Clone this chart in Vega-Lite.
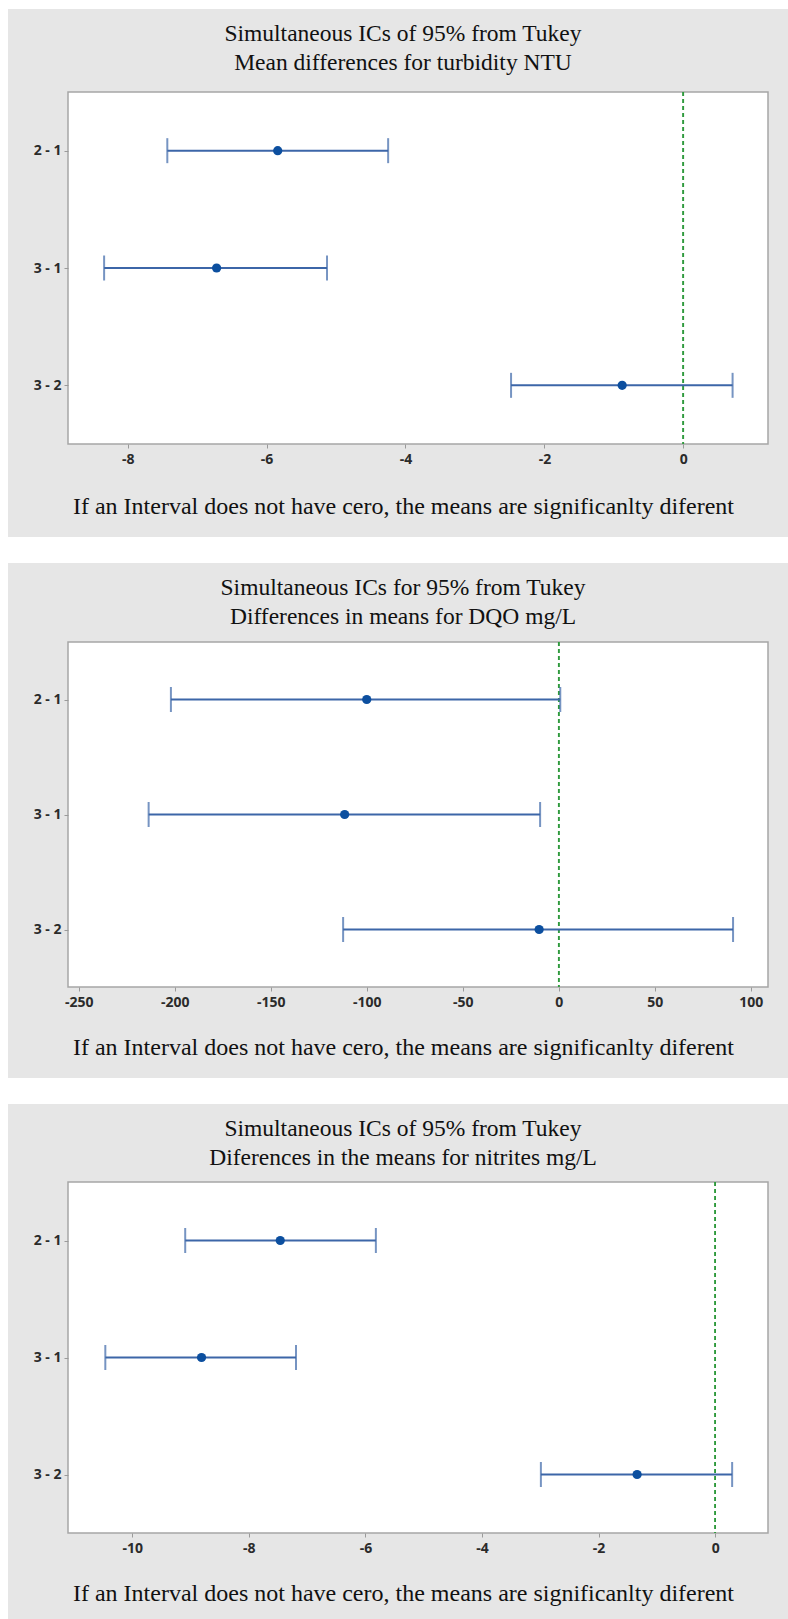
{
  "$schema": "https://vega.github.io/schema/vega-lite/v6.json",
  "background": "#e6e6e6",
  "padding": 0,
  "columns": 3,
  "align": "each",
  "bounds": "flush",
  "spacing": 0,
  "concat": [
    {"width": 8, "height": 9, "data": {"values": []}, "mark": "point", "view": {"fill": "white", "stroke": null}},
    {"width": 60, "height": 9, "data": {"values": []}, "mark": "point", "view": {"fill": "white", "stroke": null}},
    {"width": 720, "height": 9, "data": {"values": []}, "mark": "point", "view": {"fill": "white", "stroke": null}},

    {"width": 8, "height": 83, "data": {"values": []}, "mark": "point", "view": {"fill": "white", "stroke": null}},
    {"width": 60, "height": 83, "data": {"values": []}, "mark": "point"},
    {"width": 720, "height": 83, "data": {"values": []}, "mark": "point"},

    {"width": 8, "height": 352, "data": {"values": []}, "mark": "point", "view": {"fill": "white", "stroke": null}},
    {"width": 60, "height": 352, "data": {"values": []}, "mark": "point"},
    {
      "width": 700, "height": 352,
      "title": {"text": ["Simultaneous ICs of 95% from Tukey", "Mean differences for turbidity NTU"], "offset": 17, "dx": -15},
      "view": {"fill": "white", "stroke": "#a6a6a6", "strokeWidth": 1.5},
      "data": {"values": [
        {"comparison": "2 - 1", "lo": -7.43, "est": -5.84, "hi": -4.25},
        {"comparison": "3 - 1", "lo": -8.34, "est": -6.72, "hi": -5.13},
        {"comparison": "3 - 2", "lo": -2.48, "est": -0.88, "hi": 0.71}
      ]},
      "layer": [
        {"mark": {"type": "rule", "color": "#2f9a3d", "strokeDash": [4, 3], "strokeWidth": 1.5},
         "encoding": {"x": {"datum": 0, "type": "quantitative", "scale": {"domain": [-8.86, 1.22], "nice": false, "zero": false}, "title": "If an Interval does not have cero, the means are significanlty diferent", "axis": {"values": [-8, -6, -4, -2, 0], "labelExpr": "'' + datum.value", "titleY": 69}}}},
        {"mark": {"type": "rule", "color": "#3c66a8", "strokeWidth": 2},
         "encoding": {"x": {"field": "lo", "type": "quantitative", "title": "If an Interval does not have cero, the means are significanlty diferent", "axis": {"values": [-8, -6, -4, -2, 0], "labelExpr": "'' + datum.value", "titleY": 69}}, "x2": {"field": "hi"},
          "y": {"field": "comparison", "type": "nominal", "sort": null, "scale": {"type": "point", "padding": 0.5}, "axis": {"title": null}}}},
        {"mark": {"type": "tick", "color": "#3c66a8", "thickness": 2, "size": 25},
         "encoding": {"x": {"field": "lo", "type": "quantitative", "title": "If an Interval does not have cero, the means are significanlty diferent", "axis": {"values": [-8, -6, -4, -2, 0], "labelExpr": "'' + datum.value", "titleY": 69}},
          "y": {"field": "comparison", "type": "nominal", "sort": null, "scale": {"type": "point", "padding": 0.5}, "axis": {"title": null}}}},
        {"mark": {"type": "tick", "color": "#3c66a8", "thickness": 2, "size": 25},
         "encoding": {"x": {"field": "hi", "type": "quantitative", "title": "If an Interval does not have cero, the means are significanlty diferent", "axis": {"values": [-8, -6, -4, -2, 0], "labelExpr": "'' + datum.value", "titleY": 69}},
          "y": {"field": "comparison", "type": "nominal", "sort": null, "scale": {"type": "point", "padding": 0.5}, "axis": {"title": null}}}},
        {"mark": {"type": "point", "filled": true, "size": 85, "color": "#0c4f9f", "opacity": 1},
         "encoding": {"x": {"field": "est", "type": "quantitative", "title": "If an Interval does not have cero, the means are significanlty diferent", "axis": {"values": [-8, -6, -4, -2, 0], "labelExpr": "'' + datum.value", "titleY": 69}},
          "y": {"field": "comparison", "type": "nominal", "sort": null, "scale": {"type": "point", "padding": 0.5}, "axis": {"title": null}}}}
      ]
    },

    {"width": 8, "height": 93, "data": {"values": []}, "mark": "point", "view": {"fill": "white", "stroke": null}},
    {"width": 60, "height": 93, "data": {"values": []}, "mark": "point"},
    {"width": 720, "height": 93, "data": {"values": []}, "mark": "point"},

    {"width": 8, "height": 26, "data": {"values": []}, "mark": "point", "view": {"fill": "white", "stroke": null}},
    {"width": 60, "height": 26, "data": {"values": []}, "mark": "point", "view": {"fill": "white", "stroke": null}},
    {"width": 720, "height": 26, "data": {"values": []}, "mark": "point", "view": {"fill": "white", "stroke": null}},

    {"width": 8, "height": 79, "data": {"values": []}, "mark": "point", "view": {"fill": "white", "stroke": null}},
    {"width": 60, "height": 79, "data": {"values": []}, "mark": "point"},
    {"width": 720, "height": 79, "data": {"values": []}, "mark": "point"},

    {"width": 8, "height": 345, "data": {"values": []}, "mark": "point", "view": {"fill": "white", "stroke": null}},
    {"width": 60, "height": 345, "data": {"values": []}, "mark": "point"},
    {
      "width": 700, "height": 345,
      "title": {"text": ["Simultaneous ICs for 95% from Tukey", "Differences in means for DQO mg/L"], "offset": 13, "dx": -15},
      "view": {"fill": "white", "stroke": "#a6a6a6", "strokeWidth": 1.5},
      "data": {"values": [
        {"comparison": "2 - 1", "lo": -202.0, "est": -100.0, "hi": 0.8},
        {"comparison": "3 - 1", "lo": -213.6, "est": -111.5, "hi": -9.7},
        {"comparison": "3 - 2", "lo": -112.3, "est": -10.2, "hi": 90.8}
      ]},
      "layer": [
        {"mark": {"type": "rule", "color": "#2f9a3d", "strokeDash": [4, 3], "strokeWidth": 1.5},
         "encoding": {"x": {"datum": 0, "type": "quantitative", "scale": {"domain": [-255.6, 109], "nice": false, "zero": false}, "title": "If an Interval does not have cero, the means are significanlty diferent", "axis": {"values": [-250, -200, -150, -100, -50, 0, 50, 100], "labelExpr": "'' + datum.value", "titleY": 67.5}}}},
        {"mark": {"type": "rule", "color": "#3c66a8", "strokeWidth": 2},
         "encoding": {"x": {"field": "lo", "type": "quantitative", "title": "If an Interval does not have cero, the means are significanlty diferent", "axis": {"values": [-250, -200, -150, -100, -50, 0, 50, 100], "labelExpr": "'' + datum.value", "titleY": 67.5}}, "x2": {"field": "hi"},
          "y": {"field": "comparison", "type": "nominal", "sort": null, "scale": {"type": "point", "padding": 0.5}, "axis": {"title": null}}}},
        {"mark": {"type": "tick", "color": "#3c66a8", "thickness": 2, "size": 25},
         "encoding": {"x": {"field": "lo", "type": "quantitative", "title": "If an Interval does not have cero, the means are significanlty diferent", "axis": {"values": [-250, -200, -150, -100, -50, 0, 50, 100], "labelExpr": "'' + datum.value", "titleY": 67.5}},
          "y": {"field": "comparison", "type": "nominal", "sort": null, "scale": {"type": "point", "padding": 0.5}, "axis": {"title": null}}}},
        {"mark": {"type": "tick", "color": "#3c66a8", "thickness": 2, "size": 25},
         "encoding": {"x": {"field": "hi", "type": "quantitative", "title": "If an Interval does not have cero, the means are significanlty diferent", "axis": {"values": [-250, -200, -150, -100, -50, 0, 50, 100], "labelExpr": "'' + datum.value", "titleY": 67.5}},
          "y": {"field": "comparison", "type": "nominal", "sort": null, "scale": {"type": "point", "padding": 0.5}, "axis": {"title": null}}}},
        {"mark": {"type": "point", "filled": true, "size": 85, "color": "#0c4f9f", "opacity": 1},
         "encoding": {"x": {"field": "est", "type": "quantitative", "title": "If an Interval does not have cero, the means are significanlty diferent", "axis": {"values": [-250, -200, -150, -100, -50, 0, 50, 100], "labelExpr": "'' + datum.value", "titleY": 67.5}},
          "y": {"field": "comparison", "type": "nominal", "sort": null, "scale": {"type": "point", "padding": 0.5}, "axis": {"title": null}}}}
      ]
    },

    {"width": 8, "height": 91, "data": {"values": []}, "mark": "point", "view": {"fill": "white", "stroke": null}},
    {"width": 60, "height": 91, "data": {"values": []}, "mark": "point"},
    {"width": 720, "height": 91, "data": {"values": []}, "mark": "point"},

    {"width": 8, "height": 26, "data": {"values": []}, "mark": "point", "view": {"fill": "white", "stroke": null}},
    {"width": 60, "height": 26, "data": {"values": []}, "mark": "point", "view": {"fill": "white", "stroke": null}},
    {"width": 720, "height": 26, "data": {"values": []}, "mark": "point", "view": {"fill": "white", "stroke": null}},

    {"width": 8, "height": 78, "data": {"values": []}, "mark": "point", "view": {"fill": "white", "stroke": null}},
    {"width": 60, "height": 78, "data": {"values": []}, "mark": "point"},
    {"width": 720, "height": 78, "data": {"values": []}, "mark": "point"},

    {"width": 8, "height": 351, "data": {"values": []}, "mark": "point", "view": {"fill": "white", "stroke": null}},
    {"width": 60, "height": 351, "data": {"values": []}, "mark": "point"},
    {
      "width": 700, "height": 351,
      "title": {"text": ["Simultaneous ICs of 95% from Tukey", "Diferences in the means for nitrites mg/L"], "offset": 12, "dx": -15},
      "view": {"fill": "white", "stroke": "#a6a6a6", "strokeWidth": 1.5},
      "data": {"values": [
        {"comparison": "2 - 1", "lo": -9.09, "est": -7.46, "hi": -5.82},
        {"comparison": "3 - 1", "lo": -10.46, "est": -8.81, "hi": -7.19},
        {"comparison": "3 - 2", "lo": -2.99, "est": -1.34, "hi": 0.29}
      ]},
      "layer": [
        {"mark": {"type": "rule", "color": "#2f9a3d", "strokeDash": [4, 3], "strokeWidth": 1.5},
         "encoding": {"x": {"datum": 0, "type": "quantitative", "scale": {"domain": [-11.1, 0.905], "nice": false, "zero": false}, "title": "If an Interval does not have cero, the means are significanlty diferent", "axis": {"values": [-10, -8, -6, -4, -2, 0], "labelExpr": "'' + datum.value", "titleY": 67.8}}}},
        {"mark": {"type": "rule", "color": "#3c66a8", "strokeWidth": 2},
         "encoding": {"x": {"field": "lo", "type": "quantitative", "title": "If an Interval does not have cero, the means are significanlty diferent", "axis": {"values": [-10, -8, -6, -4, -2, 0], "labelExpr": "'' + datum.value", "titleY": 67.8}}, "x2": {"field": "hi"},
          "y": {"field": "comparison", "type": "nominal", "sort": null, "scale": {"type": "point", "padding": 0.5}, "axis": {"title": null}}}},
        {"mark": {"type": "tick", "color": "#3c66a8", "thickness": 2, "size": 25},
         "encoding": {"x": {"field": "lo", "type": "quantitative", "title": "If an Interval does not have cero, the means are significanlty diferent", "axis": {"values": [-10, -8, -6, -4, -2, 0], "labelExpr": "'' + datum.value", "titleY": 67.8}},
          "y": {"field": "comparison", "type": "nominal", "sort": null, "scale": {"type": "point", "padding": 0.5}, "axis": {"title": null}}}},
        {"mark": {"type": "tick", "color": "#3c66a8", "thickness": 2, "size": 25},
         "encoding": {"x": {"field": "hi", "type": "quantitative", "title": "If an Interval does not have cero, the means are significanlty diferent", "axis": {"values": [-10, -8, -6, -4, -2, 0], "labelExpr": "'' + datum.value", "titleY": 67.8}},
          "y": {"field": "comparison", "type": "nominal", "sort": null, "scale": {"type": "point", "padding": 0.5}, "axis": {"title": null}}}},
        {"mark": {"type": "point", "filled": true, "size": 85, "color": "#0c4f9f", "opacity": 1},
         "encoding": {"x": {"field": "est", "type": "quantitative", "title": "If an Interval does not have cero, the means are significanlty diferent", "axis": {"values": [-10, -8, -6, -4, -2, 0], "labelExpr": "'' + datum.value", "titleY": 67.8}},
          "y": {"field": "comparison", "type": "nominal", "sort": null, "scale": {"type": "point", "padding": 0.5}, "axis": {"title": null}}}}
      ]
    },

    {"width": 8, "height": 86, "data": {"values": []}, "mark": "point", "view": {"fill": "white", "stroke": null}},
    {"width": 60, "height": 86, "data": {"values": []}, "mark": "point"},
    {"width": 720, "height": 86, "data": {"values": []}, "mark": "point"}
  ],
  "config": {
    "view": {"stroke": null},
    "font": "Liberation Serif",
    "title": {"font": "Liberation Serif", "fontSize": 23.5, "fontWeight": "normal", "color": "#111111", "lineHeight": 28.3, "anchor": "middle", "frame": "group"},
    "axis": {"grid": false, "domain": false, "tickColor": "#9a9a9a", "tickSize": 4, "labelFont": "Open Sans", "labelFontWeight": 700, "labelFontSize": 14, "labelColor": "#2b2b2b"},
    "axisY": {"labelPadding": 3},
    "axisX": {"labelPadding": 4, "titleFont": "Liberation Serif", "titleFontSize": 24, "titleFontWeight": "normal", "titleColor": "#111111", "titleBaseline": "alphabetic", "titleAlign": "center", "titleX": 335}
  }
}
